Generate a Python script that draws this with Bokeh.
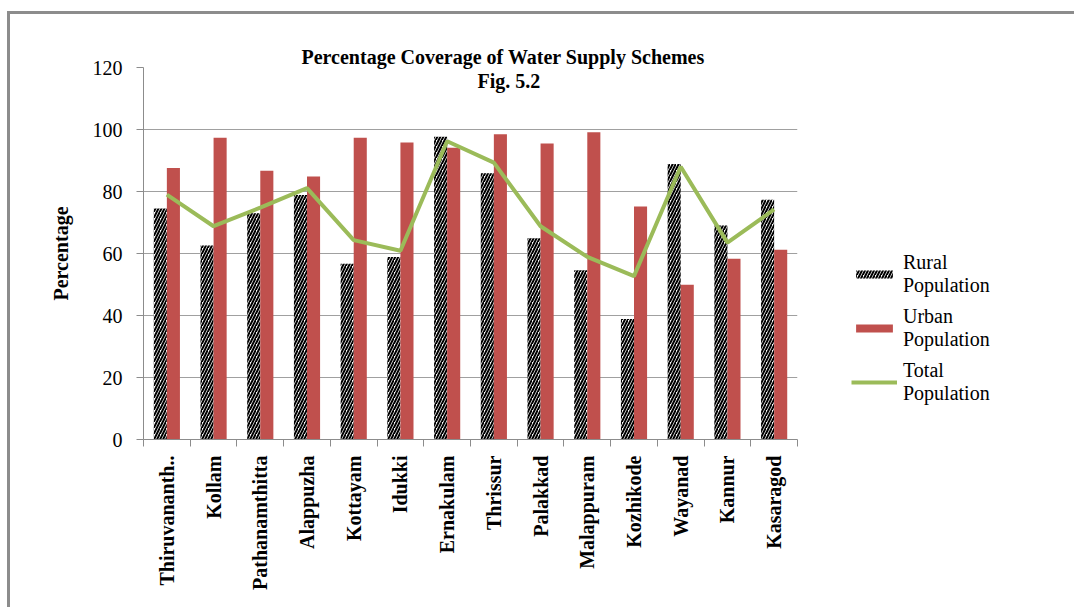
import math
from bokeh.plotting import figure
from bokeh.models import (Range1d, LinearAxis, FixedTicker, Legend, LegendItem, Label)
from bokeh.embed import file_html
from bokeh.resources import INLINE

districts = ["Thiruvananth..", "Kollam", "Pathanamthitta", "Alappuzha", "Kottayam",
             "Idukki", "Ernakulam", "Thrissur", "Palakkad", "Malappuram",
             "Kozhikode", "Wayanad", "Kannur", "Kasaragod"]
rural = [74.5, 62.6, 73.0, 78.9, 56.7, 58.9, 97.7, 85.9, 64.9, 54.6, 38.9, 88.9, 69.0, 77.3]
urban = [87.6, 97.3, 86.7, 84.8, 97.3, 95.8, 94.1, 98.5, 95.5, 99.1, 75.2, 49.9, 58.3, 61.2]
total = [79.0, 68.8, 74.8, 81.1, 64.3, 60.9, 96.2, 89.3, 68.8, 58.9, 52.7, 88.0, 63.5, 74.2]
y_ticks = [0, 20, 40, 60, 80, 100, 120]

title_line1 = "Percentage Coverage of  Water Supply Schemes"
title_line2 = "Fig. 5.2"
y_title = "Percentage"
series_names = ["Rural\nPopulation", "Urban\nPopulation", "Total\nPopulation"]

SERIF = "Liberation Serif"
GRAY = "#8c8c8c"
n = len(districts)
centers = [i + 0.5 for i in range(n)]

p = figure(frame_width=654, frame_height=372,
           min_border_left=133, min_border_top=53, min_border_right=276, min_border_bottom=168,
           x_range=Range1d(0, n), y_range=Range1d(0, 120),
           output_backend="svg", toolbar_location=None,
           x_axis_location=None, y_axis_location=None)
p.styles = {"margin-left": "7px", "margin-top": "11px",
            "border-left": "3px solid #8c8c8c", "border-top": "3px solid #8c8c8c"}
p.outline_line_color = None
p.background_fill_color = "white"
p.border_fill_color = "white"

p.title.text = title_line1
p.title.align = "left"
p.title.offset = 158
p.title.standoff = 0
p.title.text_font = SERIF
p.title.text_font_style = "bold"
p.title.text_font_size = "20px"
p.title.text_color = "black"

# y axis
yax = LinearAxis(ticker=FixedTicker(ticks=y_ticks))
yax.axis_line_color = GRAY
yax.major_tick_line_color = GRAY
yax.major_tick_in = 0
yax.major_tick_out = 7
yax.minor_tick_line_color = None
yax.major_label_text_font = SERIF
yax.major_label_text_font_size = "20px"
yax.major_label_text_color = "black"
yax.major_label_standoff = 14
yax.axis_label = y_title
yax.axis_label_text_font = SERIF
yax.axis_label_text_font_style = "bold"
yax.axis_label_text_font_size = "20px"
yax.axis_label_text_color = "black"
yax.axis_label_standoff = 18
p.add_layout(yax, "left")

# x axis: labels at category centres, minor ticks at category boundaries
xax = LinearAxis(ticker=FixedTicker(ticks=centers, minor_ticks=list(range(n + 1))))
xax.major_label_overrides = {c: d for c, d in zip(centers, districts)}
xax.axis_line_color = GRAY
xax.major_tick_line_color = None
xax.major_tick_in = 0
xax.major_tick_out = 7
xax.minor_tick_line_color = GRAY
xax.minor_tick_in = 0
xax.minor_tick_out = 7
xax.major_label_orientation = math.pi / 2
xax.major_label_text_font = SERIF
xax.major_label_text_font_style = "bold"
xax.major_label_text_font_size = "20px"
xax.major_label_text_color = "black"
xax.major_label_standoff = 9
p.add_layout(xax, "below")

p.ygrid.ticker = FixedTicker(ticks=y_ticks)
p.ygrid.grid_line_color = "#a0a0a0"
p.xgrid.grid_line_color = None

w = 0.28
r_rural = p.vbar(x=[c - 0.14 for c in centers], top=rural, width=w,
                 fill_color="white", line_color=None,
                 hatch_pattern="/", hatch_color="black", hatch_weight=2.0, hatch_scale=6)
r_urban = p.vbar(x=[c + 0.14 for c in centers], top=urban, width=w,
                 fill_color="#C0504D", line_color=None)
r_total = p.line(x=centers, y=total, line_color="#9BBB59", line_width=4)

legend = Legend(items=[LegendItem(label=series_names[0], renderers=[r_rural]),
                       LegendItem(label=series_names[1], renderers=[r_urban]),
                       LegendItem(label=series_names[2], renderers=[r_total])],
                location=(54, 34))
legend.label_text_font = SERIF
legend.label_text_font_size = "20px"
legend.label_text_color = "black"
legend.glyph_width = 46
legend.glyph_height = 10
legend.label_standoff = 6
legend.spacing = 8
legend.padding = 0
legend.margin = 0
legend.border_line_color = None
legend.background_fill_alpha = 0
p.add_layout(legend, "right")

p.add_layout(Label(x=7.82, y=115.8, text=title_line2, text_align="center", text_baseline="middle",
                   text_font=SERIF, text_font_style="bold", text_font_size="20px",
                   text_color="black"))

open("out.html", "w").write(file_html(p, INLINE))
